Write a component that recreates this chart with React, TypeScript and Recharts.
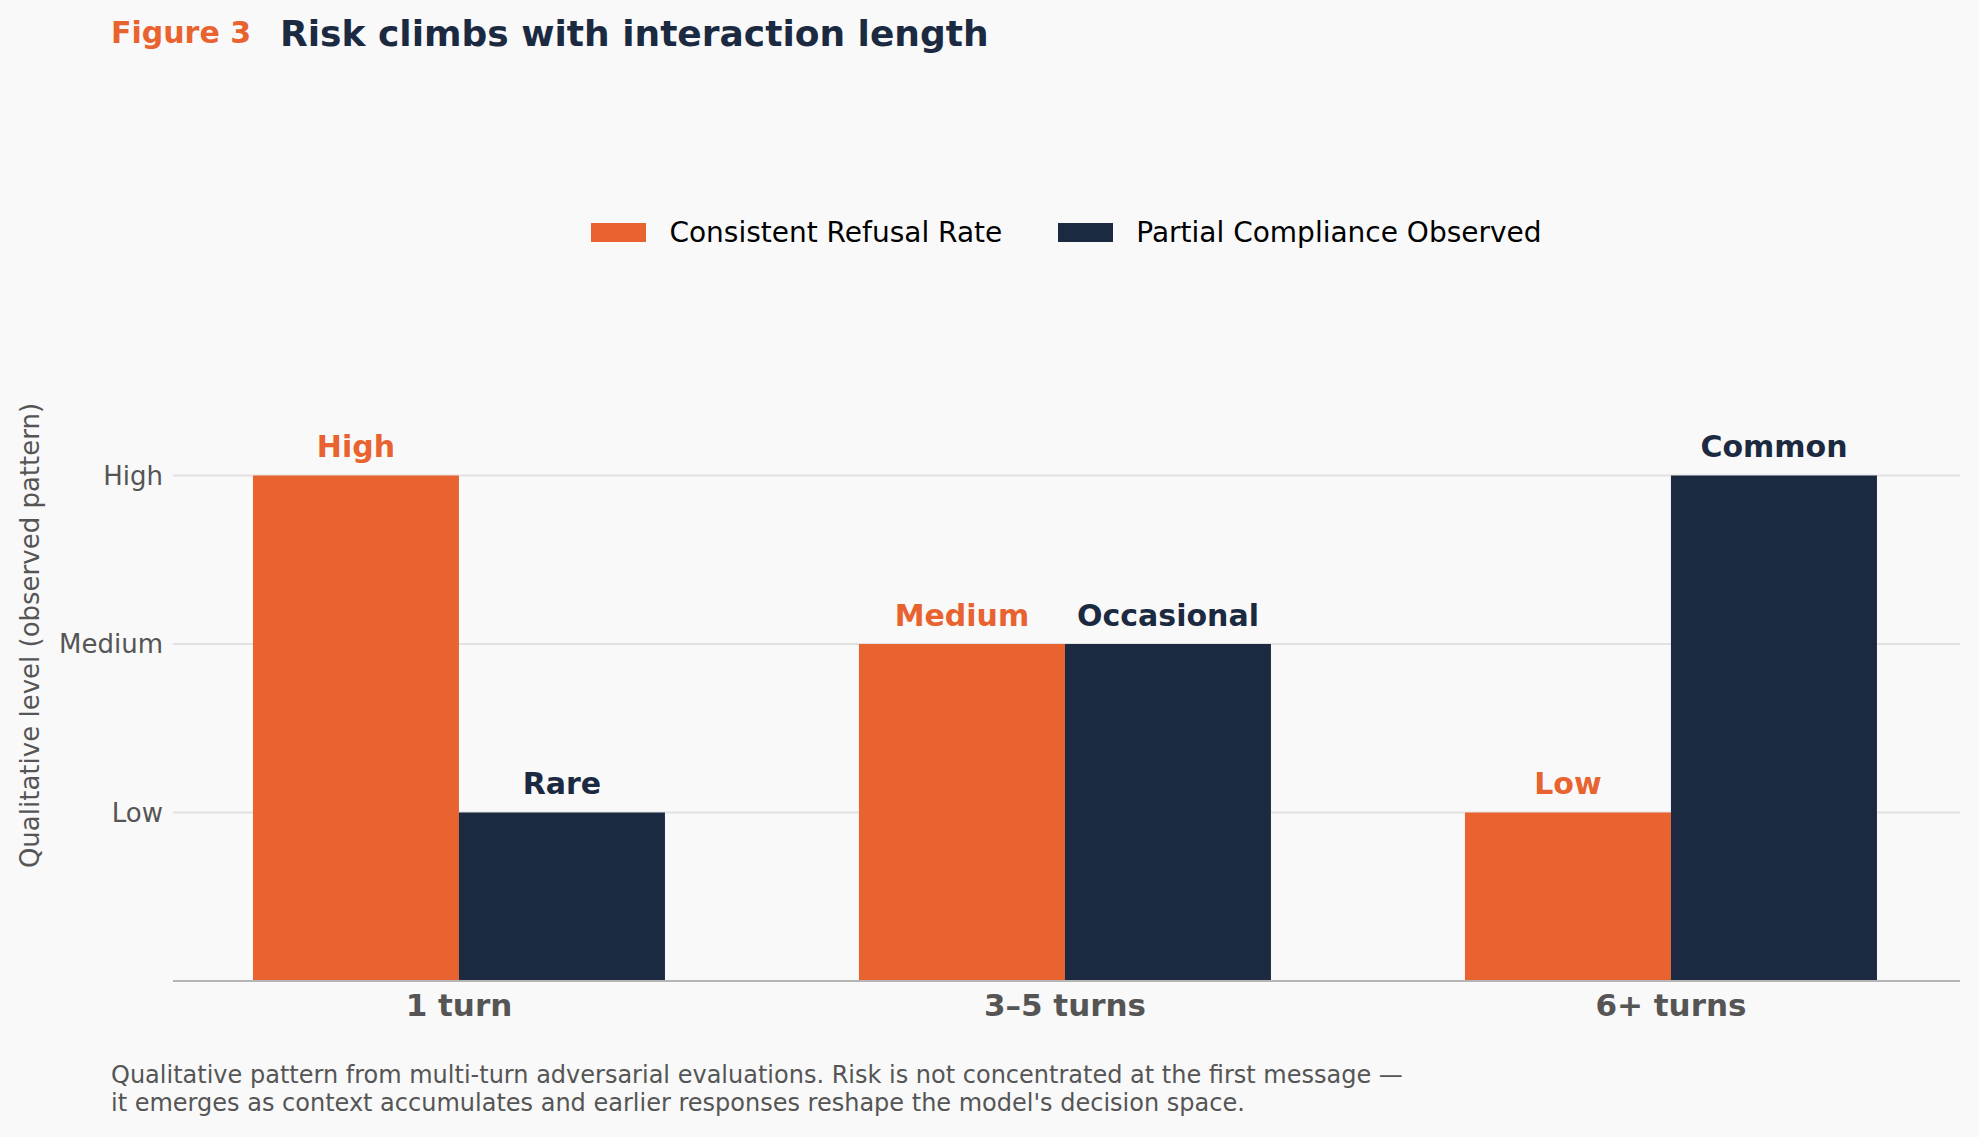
import { BarChart, Bar, XAxis, YAxis, CartesianGrid, Legend, LabelList } from 'recharts';

const turns = ['1 turn', '3–5 turns', '6+ turns'];
const levelNames = ['', 'Low', 'Medium', 'High'];
const levelTicks = [1, 2, 3];
const refusalValues = [3, 2, 1];
const refusalLabels = ['High', 'Medium', 'Low'];
const complianceValues = [1, 2, 3];
const complianceLabels = ['Rare', 'Occasional', 'Common'];

const ORANGE = '#E8632F';
const NAVY = '#1B2A41';
const GRAY = '#555555';
const FONT = '"DejaVu Sans", sans-serif';

const data = turns.map((turn, i) => ({
  turn,
  refusal: refusalValues[i],
  refusalLabel: refusalLabels[i],
  compliance: complianceValues[i],
  complianceLabel: complianceLabels[i],
}));

const legendItems = [
  { name: 'Consistent Refusal Rate', color: ORANGE },
  { name: 'Partial Compliance Observed', color: NAVY },
];

function LegendContent() {
  return (
    <div style={{ display: 'flex', justifyContent: 'center', alignItems: 'center', gap: 56, height: 44 }}>
      {legendItems.map((item) => (
        <div key={item.name} style={{ display: 'flex', alignItems: 'center', gap: 23 }}>
          <div style={{ width: 55, height: 19, background: item.color }} />
          <span style={{ fontFamily: FONT, fontSize: 28, color: '#000' }}>{item.name}</span>
        </div>
      ))}
    </div>
  );
}

function YLabel(props: any) {
  const vb = props.viewBox || { x: 0, y: 0, height: 0 };
  const cy = vb.y + vb.height / 2;
  const cx = 30;
  return (
    <text
      x={cx}
      y={cy}
      transform={`rotate(-90, ${cx}, ${cy})`}
      textAnchor="middle"
      dominantBaseline="central"
      fill={GRAY}
      fontSize={26}
      fontFamily={FONT}
    >
      Qualitative level (observed pattern)
    </text>
  );
}

export default function App() {
  return (
    <div style={{ position: 'absolute', top: 0, left: 0, width: 1979, height: 1137, background: '#F9F9F9', fontFamily: FONT }}>
      <div style={{ position: 'absolute', left: 111, top: 18, fontSize: 30, lineHeight: '30px', fontWeight: 'bold', color: ORANGE, whiteSpace: 'nowrap' }}>
        Figure 3
      </div>
      <div style={{ position: 'absolute', left: 280, top: 16, fontSize: 36, lineHeight: '36px', fontWeight: 'bold', color: NAVY, whiteSpace: 'nowrap' }}>
        Risk climbs with interaction length
      </div>

      <div style={{ position: 'absolute', left: 0, top: 0 }}>
        <BarChart
          width={1979}
          height={1137}
          data={data}
          margin={{ top: 290, right: 19, bottom: 116, left: 73 }}
          barCategoryGap="16%"
          barGap={0}
        >
          <CartesianGrid vertical={false} horizontalValues={levelTicks} stroke="#E2E2E2" strokeWidth={2} />
          <XAxis
            dataKey="turn"
            height={40}
            padding={{ left: -17, right: -14 }}
            axisLine={{ stroke: '#B5B5B5', strokeWidth: 2 }}
            tickLine={false}
            tickSize={0}
            tickMargin={13}
            tick={{ fill: GRAY, fontSize: 31, fontWeight: 'bold', fontFamily: FONT }}
          />
          <YAxis
            type="number"
            width={100}
            domain={[0, 4.1]}
            ticks={levelTicks}
            tickFormatter={(v: number) => levelNames[v]}
            axisLine={false}
            tickLine={false}
            tickSize={0}
            tickMargin={10}
            tick={{ fill: GRAY, fontSize: 26, fontFamily: FONT }}
            label={<YLabel />}
          />
          <Legend
            layout="horizontal"
            verticalAlign="middle"
            align="center"
            content={<LegendContent />}
            wrapperStyle={{ top: 210, left: 173, width: 1787, height: 44 }}
          />
          <Bar dataKey="refusal" name="Consistent Refusal Rate" fill={ORANGE} isAnimationActive={false}>
            <LabelList
              dataKey="refusalLabel"
              position="top"
              offset={18}
              fill={ORANGE}
              fontSize={30}
              fontWeight="bold"
              fontFamily={FONT}
            />
          </Bar>
          <Bar dataKey="compliance" name="Partial Compliance Observed" fill={NAVY} isAnimationActive={false}>
            <LabelList
              dataKey="complianceLabel"
              position="top"
              offset={18}
              fill={NAVY}
              fontSize={30}
              fontWeight="bold"
              fontFamily={FONT}
            />
          </Bar>
        </BarChart>
      </div>

      <div style={{ position: 'absolute', left: 111, top: 1061, fontSize: 24, lineHeight: '28px', color: GRAY, whiteSpace: 'nowrap' }}>
        Qualitative pattern from multi-turn adversarial evaluations. Risk is not concentrated at the first message —
        <br />
        it emerges as context accumulates and earlier responses reshape the model's decision space.
      </div>
    </div>
  );
}
